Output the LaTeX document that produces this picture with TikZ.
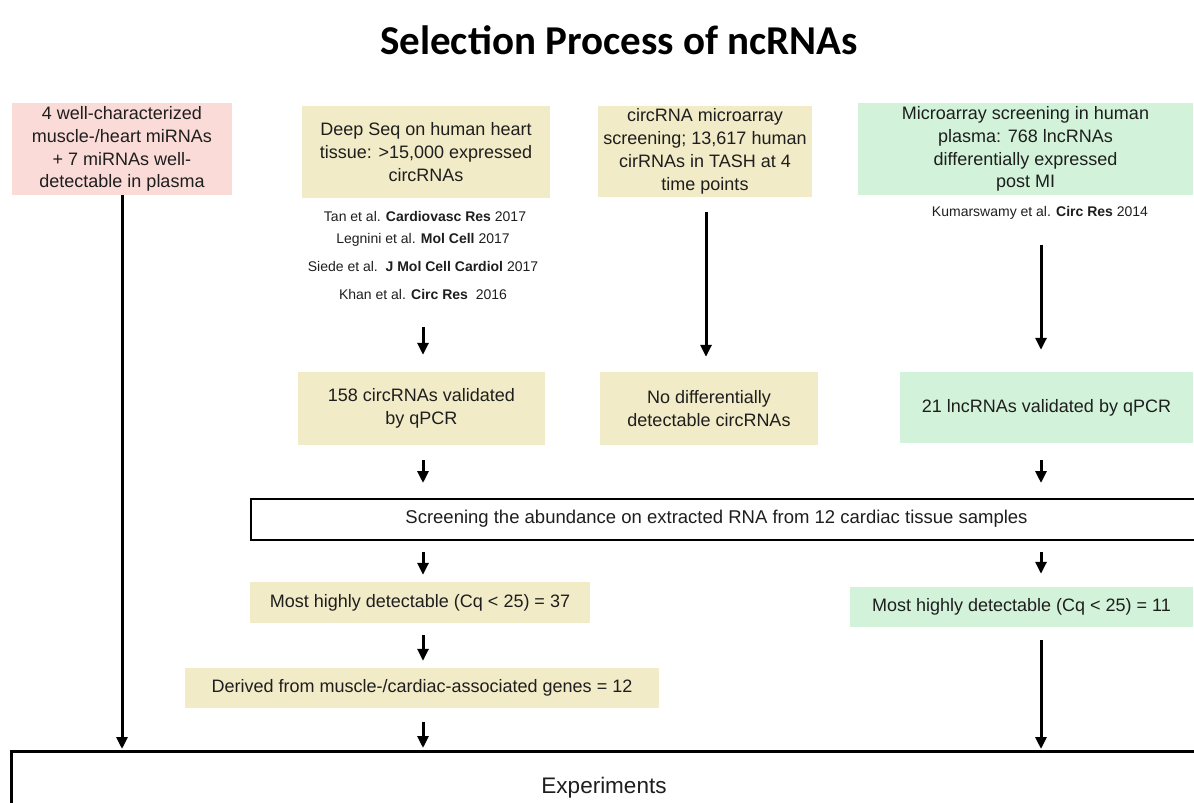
\documentclass[tikz,border=0pt]{standalone}
\usepackage{fontspec}
\setmainfont{Liberation Sans}
\newfontfamily\titlefont{Carlito}
\usetikzlibrary{arrows.meta}

\definecolor{pinkfill}{RGB}{250,219,216}
\definecolor{tanfill}{RGB}{242,235,199}
\definecolor{greenfill}{RGB}{210,243,217}
\definecolor{txt}{RGB}{30,30,30}

\tikzset{
  box/.style={rectangle, inner sep=0pt, align=center, text=txt,
    font=\fontsize{18}{22.8}\selectfont},
  pinkbox/.style={box, fill=pinkfill},
  tanbox/.style={box, fill=tanfill},
  greenbox/.style={box, fill=greenfill},
  framebox/.style={rectangle, inner sep=0pt, draw=black, line width=2pt, fill=white},
  cite/.style={inner sep=0pt, text=txt, font=\fontsize{14}{16}\selectfont},
  arr/.style={draw=black, line width=3pt,
    -{Triangle[width=11pt,length=12pt]}},
}

\begin{document}
\begin{tikzpicture}[x=1pt, y=-1pt]
\useasboundingbox (0,0) rectangle (1194,803);

% column guides for the vertical arrows
\coordinate (colL) at (423,0);
\coordinate (colM) at (706,0);
\coordinate (colR) at (1041,0);

% title
\node (title) at (619,40) {\titlefont\bfseries\fontsize{41}{46}\selectfont Selection Process of ncRNAs};

% first row of sources
\node[pinkbox, minimum width=220pt, minimum height=92pt] (mir) at (122,149)
  {4 well-characterized\\muscle-/heart miRNAs\\+ 7 miRNAs well-\\detectable in plasma};
\node[tanbox, minimum width=248pt, minimum height=92pt] (deep) at (426,152)
  {Deep Seq on human heart\\tissue: >15,000 expressed\\circRNAs};
\node[tanbox, minimum width=214pt, minimum height=91pt] (circ) at (705,151.5)
  {circRNA microarray\\screening; 13,617 human\\cirRNAs in TASH at 4\\time points};
\node[greenbox, minimum width=335pt, minimum height=92pt] (micro) at (1025.5,149)
  {Microarray screening in human\\plasma: 768 lncRNAs\\differentially expressed\\post MI};

% references
\node[cite] (c1) at (425,216) {Tan et al. \textbf{Cardiovasc Res} 2017};
\node[cite] (c2) at (423,240) {Legnini et al. \textbf{Mol Cell} 2017};
\node[cite] (c3) at (423,266) {Siede et al.\ \ \textbf{J Mol Cell Cardiol} 2017};
\node[cite] (c4) at (423,294) {Khan et al. \textbf{Circ Res}\ \ 2016};
\node[cite] (kum) at (1040,213) {Kumarswamy et al. \textbf{Circ Res} 2014};

% validation row
\node[tanbox, minimum width=247pt, minimum height=73pt] (val) at (421.5,408.5)
  {158 circRNAs validated\\by qPCR};
\node[tanbox, minimum width=218pt, minimum height=73pt] (nodiff) at (709,408.5)
  {No differentially\\detectable circRNAs};
\node[greenbox, minimum width=293pt, minimum height=71pt] (lnc) at (1046.5,407.5)
  {21 lncRNAs validated by qPCR};

% tissue screening (frame runs past the right edge)
\node[framebox, minimum width=965pt, minimum height=41pt, anchor=north west] (screen) at (250,498) {};
\node[box, font=\fontsize{18.5}{22}\selectfont] (screenlabel) at (716.5,518.5)
  {Screening the abundance on extracted RNA from 12 cardiac tissue samples};

% filtering steps
\node[tanbox, minimum width=340pt, minimum height=41pt] (hd37) at (420,602.5)
  {Most highly detectable (Cq < 25) = 37};
\node[greenbox, minimum width=343pt, minimum height=40pt] (hd11) at (1021.5,607)
  {Most highly detectable (Cq < 25) = 11};
\node[tanbox, minimum width=474pt, minimum height=40pt] (derived) at (422,688)
  {Derived from muscle-/cardiac-associated genes = 12};

% final stage (frame runs past the right and bottom edges)
\node[framebox, line width=2.5pt, minimum width=1210pt, minimum height=90pt,
      anchor=north west] (exp) at (10,750) {};
\node[box, font=\fontsize{22.5}{26}\selectfont] (explabel) at (604,788) {Experiments};

% connectors
\draw[arr, shorten >=1pt] (mir.south) -- (mir.south |- exp.north);

\draw[arr, shorten <=28pt, shorten >=17pt] (c4.south -| colL) -- (val.north -| colL);
\draw[arr, shorten <=15pt, shorten >=15pt] (val.south -| colL) -- (screen.north -| colL);
\draw[arr, shorten <=11pt, shorten >=7pt] (screen.south -| colL) -- (hd37.north -| colL);
\draw[arr, shorten <=12pt, shorten >=7pt] (hd37.south -| colL) -- (derived.north -| colL);
\draw[arr, shorten <=14pt, shorten >=2pt] (derived.south -| colL) -- (exp.north -| colL);

\draw[arr, shorten <=15pt, shorten >=15pt] (circ.south -| colM) -- (nodiff.north -| colM);

\draw[arr, shorten <=25pt, shorten >=22pt] (kum.south -| colR) -- (lnc.north -| colR);
\draw[arr, shorten <=17pt, shorten >=15pt] (lnc.south -| colR) -- (screen.north -| colR);
\draw[arr, shorten <=11pt, shorten >=13pt] (screen.south -| colR) -- (hd11.north -| colR);
\draw[arr, shorten <=13pt, shorten >=1pt] (hd11.south -| colR) -- (exp.north -| colR);
\end{tikzpicture}
\end{document}
